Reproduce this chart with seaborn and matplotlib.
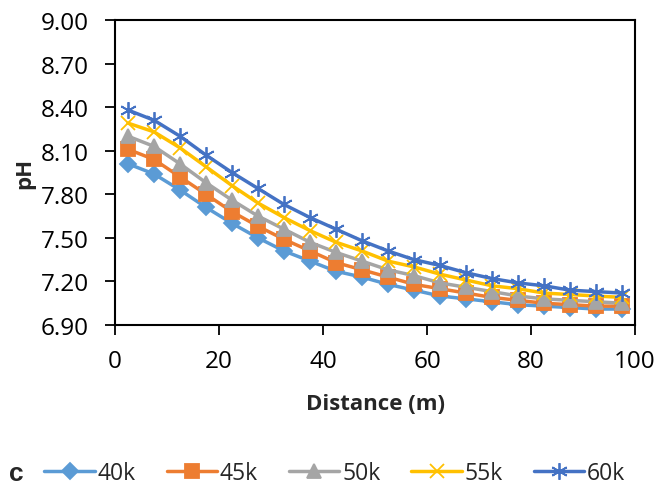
import matplotlib
matplotlib.use("Agg")
import matplotlib.pyplot as plt
import seaborn as sns
import pandas as pd
import numpy as np

distance = [2.5, 7.5, 12.5, 17.5, 22.5, 27.5, 32.5, 37.5, 42.5, 47.5,
            52.5, 57.5, 62.5, 67.5, 72.5, 77.5, 82.5, 87.5, 92.5, 97.5]
ph_40k = [8.01, 7.94, 7.83, 7.71, 7.60, 7.50, 7.41, 7.34, 7.27, 7.23,
          7.18, 7.14, 7.10, 7.08, 7.06, 7.04, 7.03, 7.02, 7.01, 7.01]
ph_45k = [8.11, 8.04, 7.92, 7.80, 7.68, 7.58, 7.49, 7.41, 7.33, 7.28,
          7.23, 7.18, 7.15, 7.12, 7.09, 7.07, 7.05, 7.04, 7.03, 7.03]
ph_50k = [8.20, 8.13, 8.01, 7.88, 7.76, 7.65, 7.56, 7.47, 7.40, 7.34,
          7.28, 7.24, 7.19, 7.16, 7.13, 7.10, 7.08, 7.07, 7.06, 7.05]
ph_55k = [8.29, 8.23, 8.12, 7.99, 7.86, 7.74, 7.64, 7.55, 7.47, 7.41,
          7.34, 7.30, 7.25, 7.21, 7.17, 7.15, 7.12, 7.11, 7.10, 7.09]
ph_60k = [8.38, 8.31, 8.20, 8.07, 7.95, 7.84, 7.73, 7.64, 7.56, 7.48,
          7.41, 7.35, 7.31, 7.26, 7.22, 7.19, 7.17, 7.14, 7.13, 7.12]
series_names = ["40k", "45k", "50k", "55k", "60k"]
yticks = [6.90, 7.20, 7.50, 7.80, 8.10, 8.40, 8.70, 9.00]
xticks = [0, 20, 40, 60, 80, 100]

colors = ["#5B9BD5", "#ED7D31", "#A5A5A5", "#FFC000", "#4472C4"]
markers = ["D", "s", "^", "x", (6, 2, 0)]
msizes = [8, 9.5, 10, 10, 12]

sns.set_style("white")
plt.rcParams["font.family"] = ["Open Sans", "DejaVu Sans"]

df = pd.DataFrame({
    "Distance": distance * 5,
    "pH": ph_40k + ph_45k + ph_50k + ph_55k + ph_60k,
    "Series": sum([[n] * len(distance) for n in series_names], []),
})

fig = plt.figure(figsize=(6.59, 4.89), dpi=100)
ax = fig.add_axes([0.1745, 0.3333, 0.7891, 0.6237])

for name, c, m, ms in zip(series_names, colors, markers, msizes):
    sub = df[df["Series"] == name]
    sns.lineplot(data=sub, x="Distance", y="pH", ax=ax, color=c, linewidth=2.5,
                 marker=m, markersize=ms, markeredgecolor=c, markeredgewidth=1.3,
                 label=name, legend=False)

ax.set_xlim(0, 100)
ax.set_ylim(6.90, 9.00)
ax.set_xticks(xticks)
ax.set_yticks(yticks)
ax.set_yticklabels([f"{v:.2f}" for v in yticks])
ax.tick_params(axis="both", direction="out", length=7, width=1.3, labelsize=17.5,
               colors="black", left=True, bottom=True)
ax.tick_params(axis="x", pad=10)
ax.tick_params(axis="y", pad=12)
for s in ax.spines.values():
    s.set_visible(True)
    s.set_color("black")
    s.set_linewidth(1.5)

ax.set_xlabel("Distance (m)", fontsize=16, fontweight="bold", va="center")
ax.set_ylabel("pH", fontsize=16, fontweight="bold", va="center")
ax.xaxis.set_label_coords(0.5, -0.256)
ax.yaxis.set_label_coords(-0.173, 0.5)

handles, labels = ax.get_legend_handles_labels()
fig.legend(handles, labels, loc="center", bbox_to_anchor=(0.508, 0.03), ncol=5,
           frameon=False, fontsize=16.5, handlelength=2.2, handletextpad=0.12,
           columnspacing=1.35)
fig.text(0.024, 0.03, "c", fontsize=19, fontweight="bold", va="center", ha="center",
         family=["Liberation Sans", "DejaVu Sans"])

fig.savefig("out.png", dpi=100)
